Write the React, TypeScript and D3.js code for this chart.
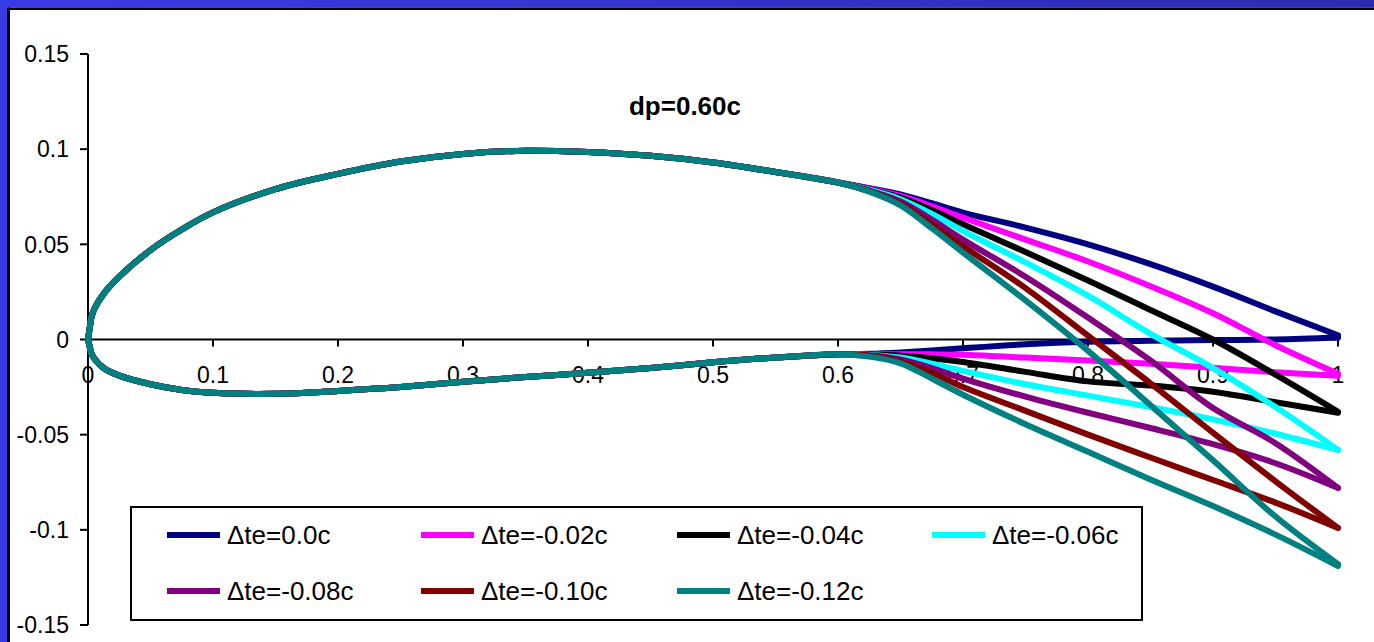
import React from "react";
import * as d3 from "d3";

// ---- data ----
const seriesLabels = ["Δte=0.0c", "Δte=-0.02c", "Δte=-0.04c", "Δte=-0.06c", "Δte=-0.08c", "Δte=-0.10c", "Δte=-0.12c"];
const seriesColors = ["#000080", "#ff00ff", "#000000", "#00ffff", "#800080", "#800000", "#008080"];

const xTicks = [0, 0.1, 0.2, 0.3, 0.4, 0.5, 0.6, 0.7, 0.8, 0.9, 1];
const xTickLabels = ["0", "0.1", "0.2", "0.3", "0.4", "0.5", "0.6", "0.7", "0.8", "0.9", "1"];
const yTicks = [0.15, 0.1, 0.05, 0, -0.05, -0.1, -0.15];
const yTickLabels = ["0.15", "0.1", "0.05", "0", "-0.05", "-0.1", "-0.15"];

// shared forward part of the section (x < 0.6)
const baseX = [0, 0.0025, 0.005, 0.0125, 0.025, 0.05, 0.075, 0.1, 0.15, 0.2, 0.25, 0.3, 0.35, 0.4, 0.45, 0.5, 0.55];
const baseUpperY = [0, 0.011, 0.016, 0.024, 0.033, 0.047, 0.0578, 0.0668, 0.079, 0.087, 0.0935, 0.0975, 0.0992, 0.0985, 0.0965, 0.093, 0.088];
const baseLowerY = [0, -0.007, -0.01, -0.015, -0.019, -0.0235, -0.0265, -0.028, -0.0285, -0.027, -0.025, -0.0222, -0.0197, -0.0175, -0.015, -0.012, -0.0095];

// deflected rear part (x >= 0.6)
const flapX = [0.6, 0.625, 0.65, 0.675, 0.7, 0.75, 0.8, 0.85, 0.9, 0.95, 1.0];
const upperTe00 = [0.0825, 0.0795, 0.0762, 0.0716, 0.0667, 0.0588, 0.05, 0.0396, 0.0278, 0.0148, 0.0022];
const lowerTe00 = [-0.0077, -0.0075, -0.0068, -0.0058, -0.0046, -0.0025, -0.0012, -0.0007, -0.0003, 0.0, 0.001];
const upperTe02 = [0.0825, 0.0793, 0.0754, 0.07, 0.064, 0.0525, 0.041, 0.028, 0.0138, -0.003, -0.018];
const lowerTe02 = [-0.0077, -0.0078, -0.0078, -0.0078, -0.008, -0.0095, -0.011, -0.0127, -0.0148, -0.0172, -0.019];
const upperTe04 = [0.0825, 0.079, 0.0745, 0.068, 0.0605, 0.046, 0.031, 0.0155, 0.0, -0.0185, -0.038];
const lowerTe04 = [-0.0077, -0.0079, -0.0085, -0.0098, -0.0118, -0.017, -0.022, -0.0242, -0.0275, -0.033, -0.0385];
const upperTe06 = [0.0825, 0.0787, 0.0737, 0.066, 0.057, 0.0405, 0.023, 0.003, -0.015, -0.0355, -0.058];
const lowerTe06 = [-0.0077, -0.0081, -0.0095, -0.0127, -0.0165, -0.0235, -0.0295, -0.0355, -0.042, -0.0495, -0.058];
const upperTe08 = [0.0825, 0.0783, 0.0725, 0.063, 0.0525, 0.033, 0.0115, -0.011, -0.036, -0.0545, -0.078];
const lowerTe08 = [-0.0077, -0.0083, -0.0105, -0.015, -0.0205, -0.03, -0.0385, -0.0465, -0.055, -0.065, -0.078];
const upperTe10 = [0.0825, 0.078, 0.0715, 0.0605, 0.049, 0.027, 0.002, -0.023, -0.049, -0.0745, -0.099];
const lowerTe10 = [-0.0077, -0.0085, -0.0115, -0.0175, -0.025, -0.0375, -0.05, -0.062, -0.0738, -0.0857, -0.099];
const upperTe12 = [0.0825, 0.0777, 0.0705, 0.0585, 0.0457, 0.0205, -0.006, -0.0345, -0.0635, -0.093, -0.118];
const lowerTe12 = [-0.0077, -0.009, -0.0125, -0.0205, -0.029, -0.0445, -0.059, -0.0735, -0.0875, -0.1025, -0.119];

const uppers = [upperTe00, upperTe02, upperTe04, upperTe06, upperTe08, upperTe10, upperTe12];
const lowers = [lowerTe00, lowerTe02, lowerTe04, lowerTe06, lowerTe08, lowerTe10, lowerTe12];

const W = 1374;
const H = 642;

export default function App() {
  const x = d3.scaleLinear().domain([0, 1]).range([88, 1338]);
  const y = d3.scaleLinear().domain([-0.15, 0.15]).range([625, 54]);
  const line = d3
    .line<[number, number]>()
    .x((d) => x(d[0]))
    .y((d) => y(d[1]))
    .curve(d3.curveCatmullRom.alpha(0.5));
  const lineLin = d3
    .line<[number, number]>()
    .x((d) => x(d[0]))
    .y((d) => y(d[1]));

  const paths = uppers.map((up, i) => {
    const lo = lowers[i];
    const upPts: [number, number][] = [
      ...baseX.map((bx, j) => [bx, baseUpperY[j]] as [number, number]),
      ...flapX.map((fx, j) => [fx, up[j]] as [number, number]),
    ];
    const loPts: [number, number][] = [
      ...baseX.map((bx, j) => [bx, baseLowerY[j]] as [number, number]),
      ...flapX.map((fx, j) => [fx, lo[j]] as [number, number]),
    ];
    const up1 = line(upPts.slice(1)) || "";
    const lo1 = line(loPts.slice(1)) || "";
    const le = lineLin([upPts[1], upPts[0], loPts[1]]) || "";
    return [up1, le, lo1];
  });

  const font = "'Liberation Sans', Arial, sans-serif";
  const legendCols = [167, 421, 677, 932];
  const legendRows = [535, 591];

  return (
    <svg width={W} height={H} style={{ position: "absolute", left: 0, top: 0 }} fontFamily={font}>
      <defs>
        <linearGradient id="topband" x1="0" x2="1" y1="0" y2="0">
          <stop offset="0" stopColor="#3b3be6" />
          <stop offset="1" stopColor="#2c2cb2" />
        </linearGradient>
      </defs>
      <rect x={0} y={0} width={W} height={H} fill="#ffffff" />
      <rect x={0} y={0} width={W} height={7.5} fill="url(#topband)" />
      <rect x={0} y={0} width={7} height={H} fill="#3a3ae4" />
      <rect x={7} y={7.5} width={W - 7} height={2.5} fill="#000000" />
      <rect x={7} y={7.5} width={3} height={H - 7.5} fill="#000000" />

      {/* title */}
      <text x={685} y={115} textAnchor="middle" fontSize={26} fontWeight="bold" fill="#000">
        dp=0.60c
      </text>

      {/* y axis */}
      <line x1={x(0)} x2={x(0)} y1={y(0.15)} y2={y(-0.15)} stroke="#000" strokeWidth={2} />
      {yTicks.map((t, i) => (
        <g key={"yt" + i}>
          <line x1={x(0) - 8} x2={x(0)} y1={y(t)} y2={y(t)} stroke="#000" strokeWidth={2} />
          <text x={69} y={y(t)} dy="0.36em" textAnchor="end" fontSize={23} fill="#000">
            {yTickLabels[i]}
          </text>
        </g>
      ))}

      {/* x axis */}
      <line x1={x(0)} x2={x(1)} y1={y(0)} y2={y(0)} stroke="#000" strokeWidth={2} />
      {xTicks.map((t, i) => (
        <g key={"xt" + i}>
          <line x1={x(t)} x2={x(t)} y1={y(0)} y2={y(0) + 7} stroke="#000" strokeWidth={2} />
          <text x={x(t)} y={383} textAnchor="middle" fontSize={23} fill="#000">
            {xTickLabels[i]}
          </text>
        </g>
      ))}

      {/* legend */}
      <rect x={131} y={507} width={1011} height={113} fill="#fff" stroke="#000" strokeWidth={2} />
      {seriesLabels.map((s, i) => {
        const cx = legendCols[i % 4];
        const cy = legendRows[Math.floor(i / 4)];
        return (
          <g key={"lg" + i}>
            <line x1={cx} x2={cx + 53} y1={cy} y2={cy} stroke={seriesColors[i]} strokeWidth={6} />
            <text x={cx + 60} y={cy} dy="0.36em" fontSize={26} fill="#000">
              {s}
            </text>
          </g>
        );
      })}

      {/* series */}
      {paths.map((segs, i) => (
        <g key={"s" + i} fill="none" stroke={seriesColors[i]} strokeWidth={6} strokeLinejoin="round" strokeLinecap="round">
          {segs.map((d, k) => (
            <path key={k} d={d} />
          ))}
        </g>
      ))}
    </svg>
  );
}
